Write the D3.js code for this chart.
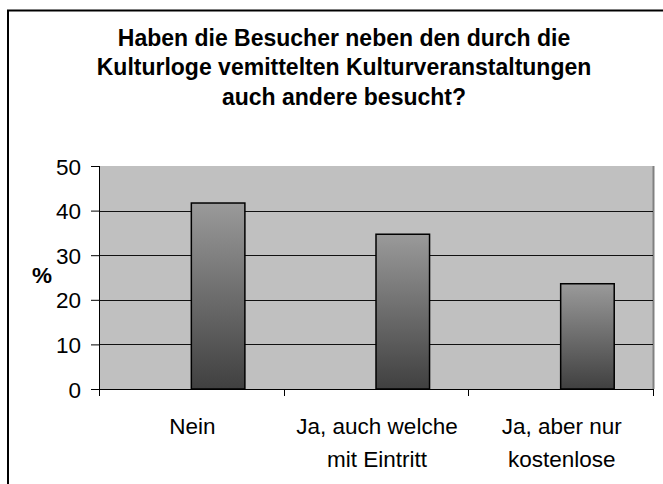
<!DOCTYPE html>
<html>
<head>
<meta charset="utf-8">
<script src="https://cdn.jsdelivr.net/npm/d3@7"></script>
<style>
  body { margin: 0; background: #fff; }
  text { font-family: "Liberation Sans", Arial, sans-serif; fill: #000; }
</style>
</head>
<body>
<script>
var categories = [["Nein"], ["Ja, auch welche", "mit Eintritt"], ["Ja, aber nur", "kostenlose"]];
var values = [41.7, 34.7, 23.6];
var yTicks = [0, 10, 20, 30, 40, 50];
var titleLines = ["Haben die Besucher neben den durch die",
                  "Kulturloge vemittelten Kulturveranstaltungen",
                  "auch andere besucht?"];

var width = 663, height = 484;
var plot = {left: 99, right: 653, top: 166, bottom: 389};
var fontSize = "22.5px";

var svg = d3.select("body").append("svg")
    .attr("width", width)
    .attr("height", height);

// outer frame (runs past the right and bottom edge)
svg.append("rect")
    .attr("x", 8).attr("y", 10.5)
    .attr("width", 670).attr("height", 490)
    .attr("fill", "#fff")
    .attr("stroke", "#000")
    .attr("stroke-width", 2);

// title
svg.append("g").selectAll("text")
    .data(titleLines)
    .enter().append("text")
    .attr("x", 344)
    .attr("y", function(d, i) { return 45.5 + i * 29.5; })
    .attr("text-anchor", "middle")
    .style("font-size", "23px")
    .style("font-weight", "bold")
    .text(function(d) { return d; });

var x = d3.scaleBand()
    .domain(d3.range(categories.length))
    .range([plot.left, plot.right]);

var y = d3.scaleLinear()
    .domain([0, 50])
    .range([plot.bottom, plot.top]);

// plot background
svg.append("rect")
    .attr("x", plot.left).attr("y", plot.top)
    .attr("width", plot.right - plot.left)
    .attr("height", plot.bottom - plot.top)
    .attr("fill", "#c0c0c0");

// right shadow
svg.append("line")
    .attr("x1", plot.right + 0.5).attr("x2", plot.right + 0.5)
    .attr("y1", plot.top).attr("y2", plot.bottom)
    .attr("stroke", "#808080")
    .attr("stroke-width", 2);

// gridlines
svg.append("g").selectAll("line")
    .data(yTicks.filter(function(d) { return d > 0 && d < 50; }))
    .enter().append("line")
    .attr("x1", plot.left).attr("x2", plot.right)
    .attr("y1", function(d) { return Math.round(y(d)) + 0.5; })
    .attr("y2", function(d) { return Math.round(y(d)) + 0.5; })
    .attr("stroke", "#111")
    .attr("stroke-width", 1);

// gradient for bars
var grad = svg.append("defs").append("linearGradient")
    .attr("id", "barGrad")
    .attr("x1", 0).attr("y1", 0).attr("x2", 0).attr("y2", 1);
grad.append("stop").attr("offset", "0%").attr("stop-color", "#9a9a9a");
grad.append("stop").attr("offset", "100%").attr("stop-color", "#404040");

// bars (drawn in the right half of each category)
var barW = x.bandwidth() * 0.29;
svg.append("g").selectAll("rect")
    .data(values)
    .enter().append("rect")
    .attr("x", function(d, i) { return x(i) + x.bandwidth() / 2; })
    .attr("y", function(d) { return y(d); })
    .attr("width", barW)
    .attr("height", function(d) { return plot.bottom - y(d); })
    .attr("fill", "url(#barGrad)")
    .attr("stroke", "#000")
    .attr("stroke-width", 1.5);

// y axis
var yAxis = svg.append("g")
    .attr("transform", "translate(" + plot.left + ",0)")
    .call(d3.axisLeft(y).tickValues(yTicks).tickSize(8).tickPadding(10));
yAxis.selectAll("text").style("font-size", fontSize).attr("dy", "0.36em");
yAxis.select(".domain").remove();
yAxis.append("line")
    .attr("x1", 0.5).attr("x2", 0.5)
    .attr("y1", plot.top).attr("y2", plot.bottom + 7)
    .attr("stroke", "#000");

// x axis
var xAxis = svg.append("g")
    .attr("transform", "translate(0," + plot.bottom + ")");
xAxis.append("line")
    .attr("x1", plot.left - 8).attr("x2", plot.right)
    .attr("y1", 0.5).attr("y2", 0.5)
    .attr("stroke", "#000");
xAxis.selectAll(".tick")
    .data(d3.range(categories.length + 1))
    .enter().append("line")
    .attr("x1", function(d) { return Math.round(plot.left + d * x.step()) + 0.5; })
    .attr("x2", function(d) { return Math.round(plot.left + d * x.step()) + 0.5; })
    .attr("y1", 0).attr("y2", 7)
    .attr("stroke", "#000");

var labels = svg.append("g").selectAll("text")
    .data(categories)
    .enter().append("text")
    .attr("text-anchor", "middle")
    .attr("x", function(d, i) { return x(i) + x.bandwidth() / 2 + 1; })
    .attr("y", 434)
    .style("font-size", fontSize);
labels.selectAll("tspan")
    .data(function(d) { return d; })
    .enter().append("tspan")
    .attr("x", function() { return d3.select(this.parentNode).attr("x"); })
    .attr("dy", function(d, i) { return i === 0 ? 0 : 33; })
    .text(function(d) { return d; });

// y axis title
svg.append("text")
    .attr("x", 42)
    .attr("y", 283)
    .attr("text-anchor", "middle")
    .style("font-size", fontSize)
    .style("font-weight", "bold")
    .text("%");
</script>
</body>
</html>
